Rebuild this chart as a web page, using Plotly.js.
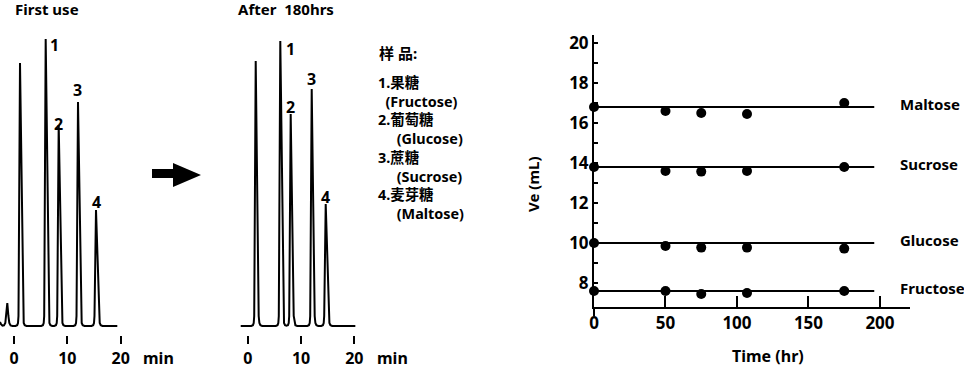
<!DOCTYPE html>
<html>
<head>
<meta charset="utf-8">
<script src="https://cdn.plot.ly/plotly-3.0.1.min.js"></script>
<style>html,body{margin:0;padding:0;background:#fff}#chart{width:964px;height:369px}</style>
</head>
<body>
<div id="chart"></div>
<script>
// ---- Chromatogram: first use (time in min, detector signal in a.u.) ----
const firstUseTime = [-2.625,-2.44,-2.16,-1.875,-1.63,-1.46,-1.256,-1.05,-0.88,-0.64,-0.28,
  0.28,0.6,0.75,0.84,1.125,1.69,1.82,2.01,2.34,
  5.1,5.42,5.57,5.66,5.94,6.51,6.64,6.83,7.16,
  7.54,7.86,8.01,8.1,8.38,8.94,9.08,9.26,9.6,
  11.16,11.48,11.63,11.72,12.0,12.56,12.69,12.88,13.22,
  14.53,14.85,15.0,15.09,15.375,15.94,16.07,16.26,16.59,19.37];
const firstUseSignal = [4,1.8,0.4,0.6,3,10,23,10,3,0.6,0,
  0,0.8,3,10,263,10,3,0.8,0,
  0,0.8,3,10,287,10,3,0.8,0,
  0,0.8,3,10,201,10,3,0.8,0,
  0,0.8,3,10,224,10,3,0.8,0,
  0,0.8,3,10,116,10,3,0.8,0,0];

// ---- Chromatogram: after 180 hrs ----
const after180Time = [-1.31,0.66,0.98,1.125,1.22,1.5,2.06,2.19,2.38,2.72,
  5.27,5.59,5.74,5.83,6.11,6.675,6.81,7.0,7.26,
  7.54,7.69,7.78,8.06,8.625,8.76,8.94,9.28,
  11.16,11.475,11.625,11.72,12.0,12.56,12.69,12.88,13.22,
  13.78,14.1,14.25,14.34,14.625,15.19,15.32,15.51,15.84,20.18];
const after180Signal = [0,0,0.8,3,10,265,10,3,0.8,0,
  0,0.8,3,10,285,10,3,0.8,0.3,
  0.8,3,10,212,10,3,0.8,0,
  0,0.8,3,10,237,10,3,0.8,0,
  0,0.8,3,10,122,10,3,0.8,0,0];

const chromTicks = [0, 10, 20];
const peakNames = ['1', '2', '3', '4'];
const firstPeakLabelT = [7.56, 8.25, 11.94, 15.375];
const firstPeakLabelS = [281, 202, 236, 124];
const afterPeakLabelT = [7.93, 7.99, 12.0, 14.625];
const afterPeakLabelS = [277, 219, 247, 129];

// ---- Elution volume stability ----
const timeHr = [0, 50, 75, 107, 175];
const maltose = [16.8, 16.6, 16.5, 16.45, 17.0];
const sucrose = [13.8, 13.6, 13.57, 13.6, 13.8];
const glucose = [10.0, 9.85, 9.77, 9.77, 9.72];
const fructose = [7.6, 7.6, 7.45, 7.5, 7.6];
const sugarNames = ['Maltose', 'Sucrose', 'Glucose', 'Fructose'];
const sugarSeries = [maltose, sucrose, glucose, fructose];
const refLevels = [16.8, 13.8, 10.0, 7.6];
const refLineX = [0, 196];
const xTicks = [0, 50, 100, 150, 200];
const yTicks = [8, 10, 12, 14, 16, 18, 20];
const yMinorTicks = [9, 11, 13, 15, 17, 19];

const legendHeader = '样 品:';
const legendCN = ['1.果糖', '2.葡萄糖', '3.蔗糖', '4.麦芽糖'];
const legendEN = ['(Fructose)', '(Glucose)', '(Sucrose)', '(Maltose)'];
const legendIndent = [2, 5, 5, 5];

const FONT = 'Noto Sans, "Noto Sans CJK SC", sans-serif';
const W = 964, H = 369;
const px = v => v / W, py = v => 1 - v / H;

const traces = [];
traces.push({x: firstUseTime, y: firstUseSignal, xaxis: 'x', yaxis: 'y', mode: 'lines',
  line: {color: '#000', width: 2}, hoverinfo: 'skip'});
traces.push({x: after180Time, y: after180Signal, xaxis: 'x2', yaxis: 'y2', mode: 'lines',
  line: {color: '#000', width: 2}, hoverinfo: 'skip'});
sugarSeries.forEach((s, i) => {
  traces.push({x: refLineX, y: [refLevels[i], refLevels[i]], xaxis: 'x3', yaxis: 'y3', mode: 'lines',
    line: {color: '#000', width: 2}, cliponaxis: false, name: sugarNames[i] + ' ref'});
  traces.push({x: timeHr, y: s, xaxis: 'x3', yaxis: 'y3', mode: 'markers',
    marker: {color: '#000', size: 10}, cliponaxis: false, name: sugarNames[i]});
});

const chromX = (domain, range, anchor) => ({
  domain: domain, range: range, anchor: anchor, showline: false, zeroline: false, showgrid: false,
  tickmode: 'array', tickvals: chromTicks, ticks: 'outside', ticklen: 8, tickwidth: 2, tickcolor: '#000',
  ticklabelstandoff: 1,
  tickfont: {family: FONT, size: 16, weight: 'bold', color: '#000'}, fixedrange: true
});
const chromY = (anchor) => ({domain: [py(335), py(30)], range: [-9, 296], anchor: anchor, visible: false, fixedrange: true});

const annotations = [];
const ann = (text, x, y, xanchor, size, extra) => Object.assign({
  text: text, x: px(x), y: py(y), xref: 'paper', yref: 'paper', xanchor: xanchor, yanchor: 'middle',
  showarrow: false, font: {family: FONT, size: size, color: '#000', weight: 'bold'}
}, extra || {});

annotations.push(ann('First use', 13, 9.5, 'left', 15));
annotations.push(ann('After\u00a0\u00a0180hrs', 236, 9.5, 'left', 15));
annotations.push(ann('min', 158, 358, 'center', 16));
annotations.push(ann('min', 392.5, 358, 'center', 16));
peakNames.forEach((n, i) => {
  annotations.push({text: n, x: firstPeakLabelT[i], y: firstPeakLabelS[i], xref: 'x', yref: 'y',
    showarrow: false, xanchor: 'center', yanchor: 'middle', font: {family: FONT, size: 16, weight: 'bold', color: '#000'}});
  annotations.push({text: n, x: afterPeakLabelT[i], y: afterPeakLabelS[i], xref: 'x2', yref: 'y2',
    showarrow: false, xanchor: 'center', yanchor: 'middle', font: {family: FONT, size: 16, weight: 'bold', color: '#000'}});
});
annotations.push(ann(legendHeader, 377, 53, 'left', 15));
const legendLines = [];
legendCN.forEach((t, i) => {
  legendLines.push(t);
  legendLines.push('\u00a0'.repeat(legendIndent[i]) + legendEN[i]);
});
annotations.push(ann(legendLines.join('<br>'), 376, 147.5, 'left', 14.4, {align: 'left'}));

sugarNames.forEach((n, i) => {
  annotations.push({text: n, x: px(898), xref: 'paper', y: refLevels[i], yref: 'y3', yshift: 3,
    xanchor: 'left', yanchor: 'middle', showarrow: false,
    font: {family: FONT, size: 15, weight: 'bold', color: '#000'}});
});
annotations.push(ann('Time (hr)', 767.7, 356, 'center', 16));
annotations.push(ann('Ve (mL)', 533, 184, 'center', 15, {textangle: -90}));

const shapes = [
  {type: 'path', xref: 'paper', yref: 'paper', fillcolor: '#000', line: {width: 0},
   path: `M${px(152)},${py(169)} L${px(173)},${py(169)} L${px(173)},${py(163)} L${px(201)},${py(175)} L${px(173)},${py(187)} L${px(173)},${py(178)} L${px(152)},${py(178)} Z`},
  {type: 'line', xref: 'paper', yref: 'paper', x0: px(594), x1: px(594), y0: py(307), y1: py(316), line: {color: '#000', width: 2}}
];

const layout = {
  width: W, height: H, margin: {l: 0, r: 0, t: 0, b: 0},
  paper_bgcolor: '#fff', plot_bgcolor: 'rgba(0,0,0,0)', showlegend: false,
  font: {family: FONT, color: '#000'},
  xaxis: chromX([0, px(128)], [-2.625, 21.375], 'y'),
  yaxis: chromY('x'),
  xaxis2: chromX([px(230), px(358)], [-3.32, 20.68], 'y2'),
  yaxis2: chromY('x2'),
  xaxis3: {domain: [px(594), px(910)], range: [0, 221], anchor: 'y3', showline: true, linewidth: 2, linecolor: '#000',
    zeroline: false, showgrid: false, tickmode: 'array', tickvals: xTicks, ticks: 'inside', ticklen: 11, tickwidth: 2,
    tickcolor: '#000', tickfont: {family: FONT, size: 17, weight: 'bold', color: '#000'}, fixedrange: true},
  yaxis3: {domain: [py(307), py(35)], range: [6.8, 20.4], anchor: 'x3', showline: true, linewidth: 2, linecolor: '#000',
    zeroline: false, showgrid: false, tickmode: 'array', tickvals: yTicks, ticks: 'inside', ticklen: 4, tickwidth: 2,
    tickcolor: '#000', tickfont: {family: FONT, size: 17, weight: 'bold', color: '#000'}, fixedrange: true,
    minor: {tickmode: 'array', tickvals: yMinorTicks, ticks: 'inside', ticklen: 4, tickwidth: 2, tickcolor: '#000', showgrid: false}},
  annotations: annotations, shapes: shapes
};

Plotly.newPlot('chart', traces, layout, {displayModeBar: false, staticPlot: true});
</script>
</body>
</html>
